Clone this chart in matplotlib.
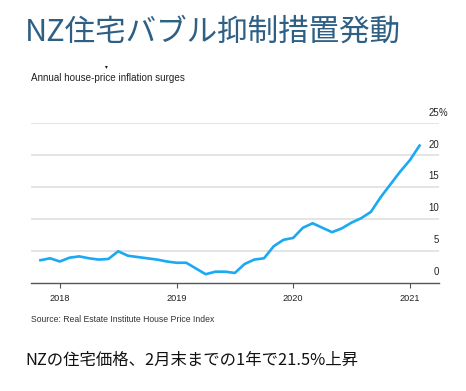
import numpy as np
import pandas as pd
import matplotlib
matplotlib.use('Agg')
import matplotlib.pyplot as plt
import matplotlib.transforms as mtrans

# datos mensuales, nov 2017 - feb 2021 (inflacion anual de precios de vivienda, %)
meses = pd.date_range('2017-11-01', '2021-02-01', freq='MS')
inflacion = [3.5, 3.8, 3.3, 3.9, 4.1, 3.8, 3.6, 3.7, 4.9, 4.2,
             4.0, 3.8, 3.6, 3.3, 3.1, 3.1, 2.2, 1.3, 1.7, 1.7,
             1.5, 2.9, 3.6, 3.8, 5.7, 6.7, 7.0, 8.6, 9.3, 8.6,
             7.9, 8.5, 9.4, 10.1, 11.1, 13.4, 15.4, 17.4, 19.2, 21.5]
anios = [2018, 2019, 2020, 2021]
niveles_y = [0, 5, 10, 15, 20, 25]

titulo = 'NZ住宅バブル抑制措置発動'
subtitulo = 'Annual house-price inflation surges'
fuente = 'Source: Real Estate Institute House Price Index'
pie = 'NZの住宅価格、2月末までの1年で21.5%上昇'

cjk = ['Noto Sans CJK JP', 'DejaVu Sans']
sans = ['Liberation Sans', 'DejaVu Sans']

# fecha decimal
x = meses.year + (meses.month - 1) / 12

fig = plt.figure(figsize=(4.66, 3.91), dpi=100)
ax = fig.add_axes([30.7/466, 1-282.5/391, (439-30.7)/466, (282.5-123.3)/391])

for v in niveles_y[1:]:
    ax.axhline(v, color='#dcdcdc', lw=1.1, zorder=1)
ax.plot(x, inflacion, color='#1aa9f2', lw=1.9, solid_joinstyle='round', zorder=3)

ax.set_xlim(2017.75, 2021.25)
ax.set_ylim(0, 25)
for s in ['top', 'right', 'left']:
    ax.spines[s].set_visible(False)
ax.spines['bottom'].set_color('#555555')
ax.spines['bottom'].set_linewidth(1.0)
ax.set_yticks([])
ax.set_xticks(anios)
ax.set_xticklabels([str(a) for a in anios], family=sans, fontsize=6.6, color='#222222')
ax.tick_params(axis='x', length=3.5, width=0.8, color='#555555', pad=4.5)

# etiquetas del eje y a la derecha, encima de cada linea
trans = mtrans.blended_transform_factory(ax.transAxes, ax.transData)
off = mtrans.offset_copy(trans, fig=fig, x=0, y=4, units='points')
for v in niveles_y:
    ax.text(1.0, v, str(v), transform=off, ha='right', va='bottom',
            family=sans, fontsize=6.9, color='#222222')
    if v == niveles_y[-1]:
        ax.text(1.0, v, '%', transform=off, ha='left', va='bottom',
                family=sans, fontsize=6.9, color='#222222')

fig.text(25/466, 1-32/391, titulo, family=cjk, fontsize=22, color='#2e5f84',
         ha='left', va='center')
fig.text(106/466, 1-67/391, '▾', family='DejaVu Sans', fontsize=4, color='#111111',
         ha='center', va='center')
fig.text(30.7/466, 1-78/391, subtitulo, family=sans, fontsize=7.1, color='#222222',
         ha='left', va='center')
fig.text(31/466, 1-319/391, fuente, family=sans, fontsize=6.2, color='#333333',
         ha='left', va='center')
fig.text(25/466, 1-360/391, pie, family=cjk, fontsize=11.8, color='#111111',
         ha='left', va='center')

plt.savefig('out.png', dpi=100)
